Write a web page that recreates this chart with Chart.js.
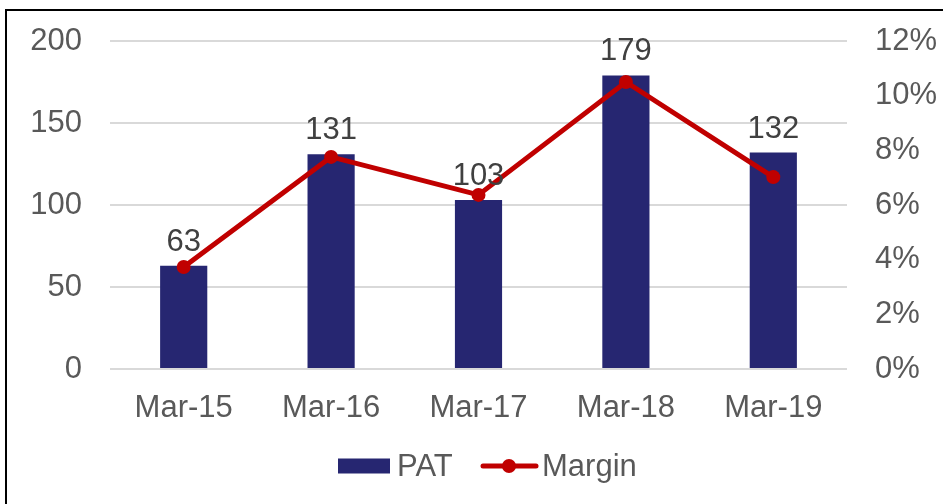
<!DOCTYPE html>
<html lang="en">
<head>
  <meta charset="UTF-8">
  <title>PAT and Margin</title>
  <script src="https://cdn.jsdelivr.net/npm/chart.js"></script>
  <style>
    body { margin: 0; background: #fff; overflow: hidden; }
    #frame { position: absolute; left: 5px; top: 9px; width: 960px; height: 520px; border: 2px solid #000; }
    #patChart { position: absolute; left: 0; top: 0; }
  </style>
</head>
<body>
  <div id="frame"></div>
  <canvas id="patChart" width="943" height="504"></canvas>
  <script>
    const years = ['Mar-15', 'Mar-16', 'Mar-17', 'Mar-18', 'Mar-19'];
    const patValues = [63, 131, 103, 179, 132];
    const marginValues = [0.0373, 0.0776, 0.0637, 0.105, 0.0702];

    const navy = '#262671';
    const red = '#c00000';
    const font = 'Liberation Sans, Arial, sans-serif';

    // value labels above the bars (bar dataset is index 1)
    const barLabels = {
      id: 'barLabels',
      afterDatasetsDraw(chart) {
        const ctx = chart.ctx;
        const meta = chart.getDatasetMeta(1);
        ctx.save();
        ctx.font = '31px ' + font;
        ctx.fillStyle = '#404040';
        ctx.textAlign = 'center';
        ctx.textBaseline = 'alphabetic';
        meta.data.forEach((bar, i) => {
          ctx.fillText(patValues[i], bar.x, bar.y - 15);
        });
        ctx.restore();
      }
    };

    // legend drawn at the bottom
    const bottomLegend = {
      id: 'bottomLegend',
      afterDraw(chart) {
        const ctx = chart.ctx;
        const y = 466;
        ctx.save();
        ctx.font = '31px ' + font;
        ctx.fillStyle = navy;
        ctx.fillRect(338, y - 7.5, 52, 15);
        ctx.fillStyle = '#595959';
        ctx.textBaseline = 'middle';
        ctx.fillText('PAT', 397, y + 1);
        ctx.strokeStyle = red;
        ctx.lineWidth = 5;
        ctx.lineCap = 'round';
        ctx.beginPath();
        ctx.moveTo(483, y);
        ctx.lineTo(536, y);
        ctx.stroke();
        ctx.fillStyle = red;
        ctx.beginPath();
        ctx.arc(509, y, 7, 0, Math.PI * 2);
        ctx.fill();
        ctx.fillStyle = '#595959';
        ctx.fillText('Margin', 542, y + 1);
        ctx.restore();
      }
    };

    // keep the value axes from adding their own label overflow padding
    function noVPad(scale) {
      scale.paddingTop = 0;
      scale.paddingBottom = 0;
    }

    const ctx = document.getElementById('patChart').getContext('2d');
    new Chart(ctx, {
      data: {
        labels: years,
        datasets: [
          {
            type: 'line',
            label: 'Margin',
            data: marginValues,
            yAxisID: 'y1',
            borderColor: red,
            backgroundColor: red,
            borderWidth: 5,
            pointRadius: 7,
            pointBackgroundColor: red,
            pointBorderWidth: 0,
            tension: 0,
            order: 0
          },
          {
            type: 'bar',
            label: 'PAT',
            data: patValues,
            yAxisID: 'y',
            backgroundColor: navy,
            barPercentage: 0.32,
            categoryPercentage: 1,
            order: 1
          }
        ]
      },
      options: {
        responsive: false,
        animation: false,
        layout: { padding: { top: 41, left: 0, right: 0, bottom: 0 } },
        plugins: {
          legend: { display: false },
          tooltip: { enabled: false }
        },
        scales: {
          x: {
            grid: { display: false },
            border: { display: false },
            ticks: { color: '#595959', font: { family: font, size: 31 }, padding: 13 },
            afterFit(scale) { scale.height = 135; }
          },
          y: {
            position: 'left',
            min: 0,
            max: 200,
            ticks: { stepSize: 50, color: '#595959', font: { family: font, size: 31 }, padding: 28 },
            grid: { color: '#d9d9d9', lineWidth: 2, drawTicks: false },
            border: { display: false },
            afterFit(scale) { scale.width = 110; noVPad(scale); }
          },
          y1: {
            position: 'right',
            min: 0,
            max: 0.12,
            ticks: {
              stepSize: 0.02,
              color: '#595959',
              font: { family: font, size: 31 },
              padding: 28,
              callback: v => Math.round(v * 100) + '%'
            },
            grid: { display: false, drawTicks: false },
            border: { display: false },
            afterFit(scale) { scale.width = 96; noVPad(scale); }
          }
        }
      },
      plugins: [barLabels, bottomLegend]
    });
  </script>
</body>
</html>
